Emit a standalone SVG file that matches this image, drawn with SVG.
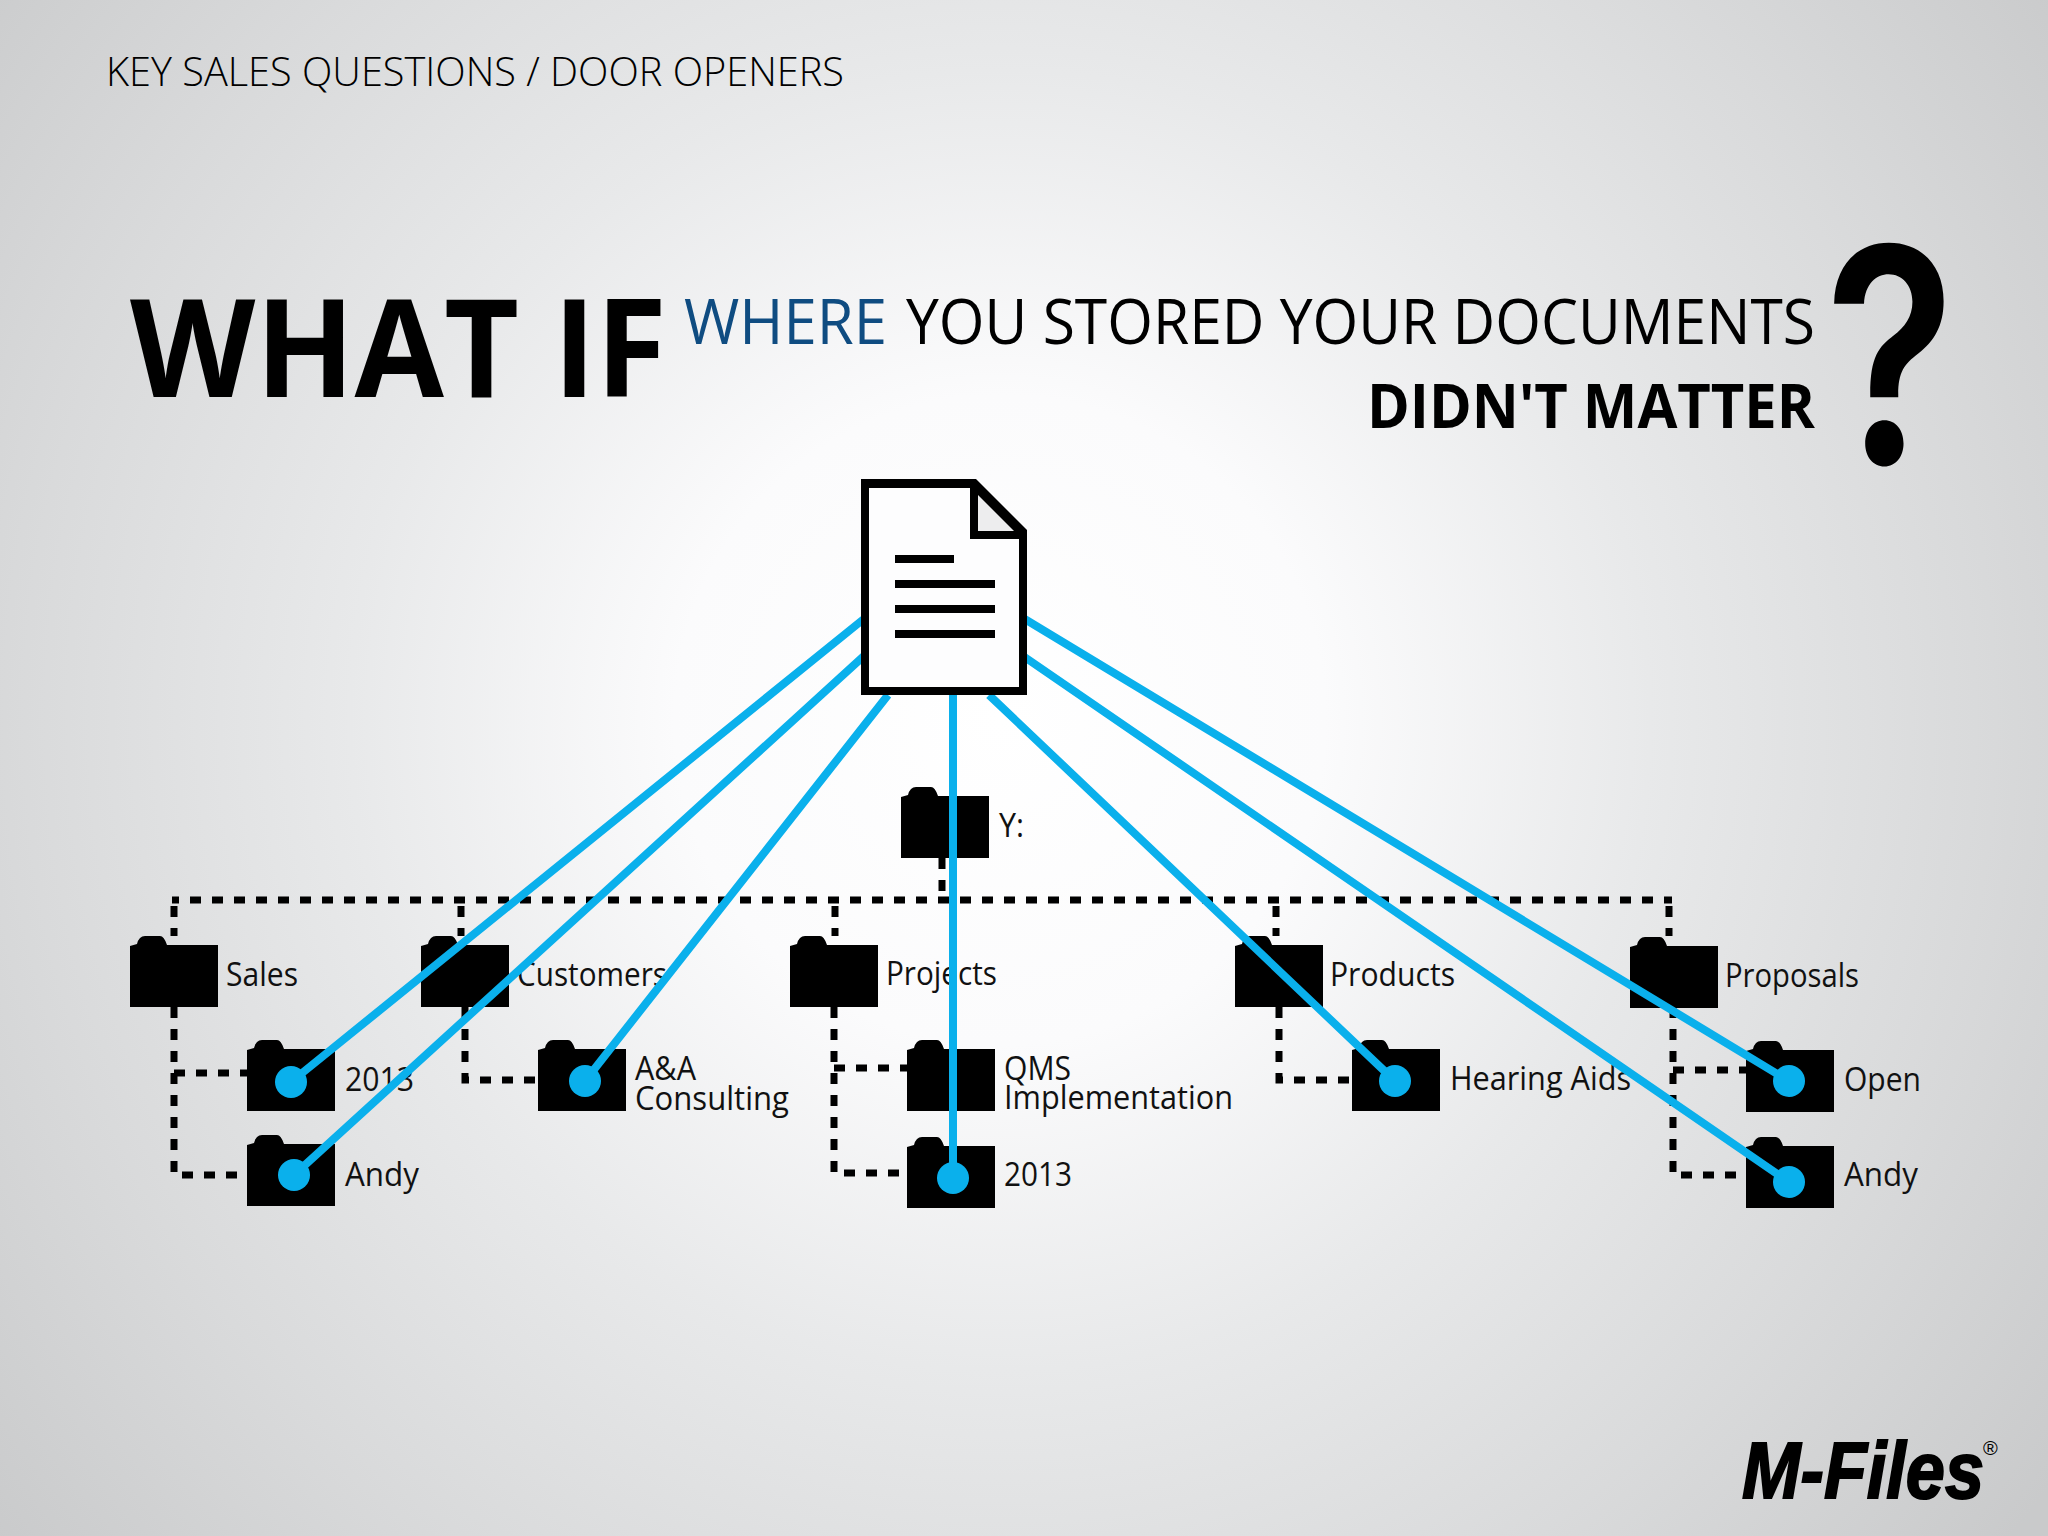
<svg xmlns="http://www.w3.org/2000/svg" width="2048" height="1536" viewBox="0 0 2048 1536">
<style>
text{font-family:"Open Sans","Liberation Sans",sans-serif;fill:#000}
.lb{font-size:32px;fill:#111}
.dash{fill:none;stroke:#000;stroke-width:7;stroke-dasharray:11 11}
.blue{fill:none;stroke:#0ab0ec;stroke-width:8}
.dot{fill:#0ab0ec}
</style>
<defs>
<radialGradient id="bg" gradientUnits="userSpaceOnUse" cx="1000" cy="720" r="1300">
<stop offset="0" stop-color="#ffffff"/><stop offset="0.25" stop-color="#fbfbfc"/><stop offset="0.5" stop-color="#e8e9ea"/><stop offset="0.75" stop-color="#d9dadb"/><stop offset="1" stop-color="#c9cacb"/>
</radialGradient>
<path id="f" d="M0 10 L7 8 Q9 0 15 0 H30 Q34 0 37 9 H88 V71 H0Z"/>
</defs>
<rect id="background" width="2048" height="1536" fill="url(#bg)"/>
<text x="106" y="86" font-size="40" font-weight="300" textLength="738" lengthAdjust="spacingAndGlyphs">KEY SALES QUESTIONS / DOOR OPENERS</text>
<text x="130" y="397" font-size="137" font-weight="700" textLength="537" lengthAdjust="spacingAndGlyphs">WHAT IF</text>
<text x="684" y="344" font-size="62" fill="#0f4c81" style="fill:#0f4c81" textLength="203" lengthAdjust="spacingAndGlyphs">WHERE</text>
<text x="906" y="344" font-size="62" textLength="909" lengthAdjust="spacingAndGlyphs">YOU STORED YOUR DOCUMENTS</text>
<text x="1367" y="428" font-size="60" font-weight="700" textLength="448" lengthAdjust="spacingAndGlyphs">DIDN'T MATTER</text>
<text x="1890" y="464" font-size="300" font-weight="600" text-anchor="middle" transform="translate(1890 0) scale(0.8 1) translate(-1890 0)" style="font-family:Inter,'Open Sans',sans-serif">?</text>
<g id="connectors-tree">
<path class="dash" d="M190 900H1672M942 858V900M174 906V936M174 1007V1175H247M174 1073H247M461 906V936M465 1007V1080H538M835 906V936M834 1007V1173H907M834 1068H907M1276 906V936M1279 1007V1080H1352M1669 906V936M1673 1007V1175H1746M1673 1070H1746"/>
<path d="M172 896.500h7v7h-7z"/>
</g>
<g id="node-y"><use href="#f" x="901" y="787"/><text class="lb" x="999" y="837" textLength="25" lengthAdjust="spacingAndGlyphs">Y:</text></g>
<g id="node-sales"><use href="#f" x="130" y="936"/><text class="lb" x="226" y="986" textLength="72" lengthAdjust="spacingAndGlyphs">Sales</text></g>
<g id="node-sales-2013"><use href="#f" x="247" y="1040"/><text class="lb" x="345" y="1091" textLength="69" lengthAdjust="spacingAndGlyphs">2013</text></g>
<g id="node-sales-andy"><use href="#f" x="247" y="1135"/><text class="lb" x="345" y="1186" textLength="74" lengthAdjust="spacingAndGlyphs">Andy</text></g>
<g id="node-customers"><use href="#f" x="421" y="936"/><text class="lb" x="517" y="986" textLength="150" lengthAdjust="spacingAndGlyphs">Customers</text></g>
<g id="node-aa"><use href="#f" x="538" y="1040"/><text class="lb" x="635" y="1080" textLength="61" lengthAdjust="spacingAndGlyphs">A&amp;A</text><text class="lb" x="635" y="1110" textLength="154" lengthAdjust="spacingAndGlyphs">Consulting</text></g>
<g id="node-projects"><use href="#f" x="790" y="936"/><text class="lb" x="886" y="985" textLength="111" lengthAdjust="spacingAndGlyphs">Projects</text></g>
<g id="node-qms"><use href="#f" x="907" y="1040"/><text class="lb" x="1004" y="1080" textLength="67" lengthAdjust="spacingAndGlyphs">QMS</text><text class="lb" x="1004" y="1109" textLength="229" lengthAdjust="spacingAndGlyphs">Implementation</text></g>
<g id="node-projects-2013"><use href="#f" x="907" y="1137"/><text class="lb" x="1004" y="1186" textLength="68" lengthAdjust="spacingAndGlyphs">2013</text></g>
<g id="node-products"><use href="#f" x="1235" y="936"/><text class="lb" x="1330" y="986" textLength="125" lengthAdjust="spacingAndGlyphs">Products</text></g>
<g id="node-hearing"><use href="#f" x="1352" y="1040"/><text class="lb" x="1450" y="1090" textLength="181" lengthAdjust="spacingAndGlyphs">Hearing Aids</text></g>
<g id="node-proposals"><use href="#f" x="1630" y="937"/><text class="lb" x="1725" y="987" textLength="134" lengthAdjust="spacingAndGlyphs">Proposals</text></g>
<g id="node-open"><use href="#f" x="1746" y="1041"/><text class="lb" x="1844" y="1091" textLength="77" lengthAdjust="spacingAndGlyphs">Open</text></g>
<g id="node-proposals-andy"><use href="#f" x="1746" y="1137"/><text class="lb" x="1844" y="1186" textLength="74" lengthAdjust="spacingAndGlyphs">Andy</text></g>
<g id="connectors">
<path class="blue" d="M865 618L291 1082M865 655L294 1175M888 695L585 1081M953 690V1178M989 695L1395 1081M1023 656L1789 1182M1023 618L1789 1081"/>
<circle class="dot" cx="291" cy="1082" r="16"/><circle class="dot" cx="294" cy="1175" r="16"/><circle class="dot" cx="585" cy="1081" r="16"/><circle class="dot" cx="953" cy="1178" r="16"/><circle class="dot" cx="1395" cy="1081" r="16"/><circle class="dot" cx="1789" cy="1182" r="16"/><circle class="dot" cx="1789" cy="1081" r="16"/>
</g>
<g id="node-document">
<path d="M861 479H976L1027 530V695H861Z"/>
<path d="M869 488H970V539H1019V687H869Z" fill="#fdfdfe"/>
<path d="M978 495L1014 531H978Z" fill="#ededee"/>
<rect x="895" y="555" width="59" height="8"/><rect x="895" y="580" width="100" height="8"/><rect x="895" y="605" width="100" height="8"/><rect x="895" y="630" width="100" height="8"/>
</g>
<g id="logo">
<text x="1742" y="1498" font-size="80" font-weight="700" font-style="italic" stroke="#000" stroke-width="2" style="font-family:'Liberation Sans',sans-serif" textLength="242" lengthAdjust="spacingAndGlyphs">M-Files</text>
<text x="1983" y="1455" font-size="20" style="font-family:'Liberation Sans',sans-serif">®</text>
</g>
</svg>
